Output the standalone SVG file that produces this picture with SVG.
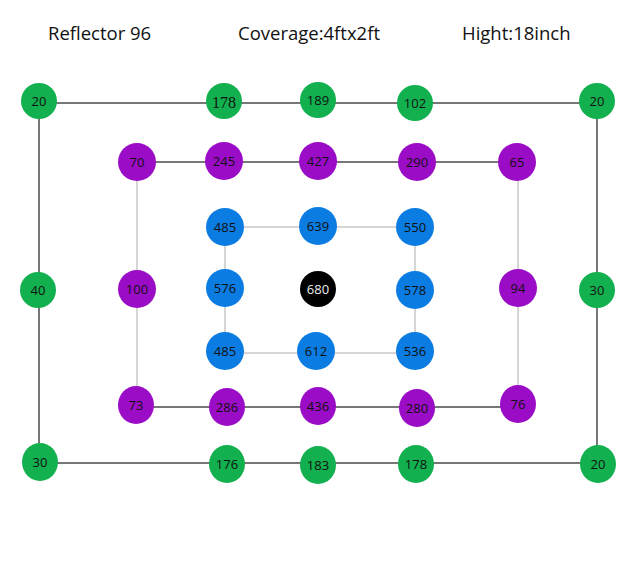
<svg xmlns="http://www.w3.org/2000/svg" width="637" height="566" viewBox="0 0 637 566">
<style>
.g{fill:#12B04F}.p{fill:#9B0CC6}.b{fill:#0B7CE2}.k{fill:#000}
.t{font-family:"Open Sans","Liberation Sans",sans-serif;font-size:13px;fill:#111;text-anchor:middle;dominant-baseline:central}
.w{fill:#eee}
.s{font-family:"Liberation Serif",serif;font-size:16px}
.h{font-family:"Open Sans","Liberation Sans",sans-serif;font-size:18.5px;fill:#111}
.d{stroke:#777;stroke-width:2;fill:none}
.l{stroke:#c8c8c8;stroke-width:1.5;fill:none}
</style>
<rect width="637" height="566" fill="#fff"/>
<text class="h" x="48" y="40">Reflector 96</text>
<text class="h" x="238" y="40">Coverage:4ftx2ft</text>
<text class="h" x="462" y="40">Hight:18inch</text>
<g id="connectors">
<path class="d" d="M39 103 H597 M39 101 V462 M40 463 H598 M597 101 V464"/>
<path class="d" d="M137 162 H517 M136 407 H518"/>
<path class="l" d="M137 162 V405 M518 162 V404"/>
<path class="l" d="M225 227 H415 M225 353 H415 M225 227 V351 M415 227 V351"/>
</g>
<g id="n-g1"><circle class="g" cx="39" cy="101" r="18"/><text class="t" x="39" y="101">20</text></g>
<g id="n-g2"><circle class="g" cx="224" cy="101" r="18"/><text class="t s" x="224" y="102">178</text></g>
<g id="n-g3"><circle class="g" cx="318" cy="100" r="18"/><text class="t" x="318" y="100">189</text></g>
<g id="n-g4"><circle class="g" cx="415" cy="103" r="18"/><text class="t" x="415" y="103">102</text></g>
<g id="n-g5"><circle class="g" cx="597" cy="101" r="18"/><text class="t" x="597" y="101">20</text></g>
<g id="n-g6"><circle class="g" cx="38" cy="290" r="18"/><text class="t" x="38" y="290">40</text></g>
<g id="n-g7"><circle class="g" cx="597" cy="290" r="18"/><text class="t" x="597" y="290">30</text></g>
<g id="n-g8"><ellipse class="g" cx="40" cy="462" rx="18" ry="19"/><text class="t" x="40" y="462">30</text></g>
<g id="n-g9"><ellipse class="g" cx="227" cy="464" rx="18" ry="19"/><text class="t" x="227" y="464">176</text></g>
<g id="n-g10"><ellipse class="g" cx="318" cy="465" rx="18" ry="19"/><text class="t" x="318" y="465">183</text></g>
<g id="n-g11"><ellipse class="g" cx="416" cy="464" rx="18" ry="19"/><text class="t" x="416" y="464">178</text></g>
<g id="n-g12"><ellipse class="g" cx="598" cy="464" rx="18" ry="19"/><text class="t" x="598" y="464">20</text></g>
<g id="n-p1"><circle class="p" cx="137" cy="162" r="19"/><text class="t" x="137" y="162">70</text></g>
<g id="n-p2"><circle class="p" cx="224" cy="161" r="19"/><text class="t" x="224" y="161">245</text></g>
<g id="n-p3"><circle class="p" cx="318" cy="161" r="19"/><text class="t" x="318" y="161">427</text></g>
<g id="n-p4"><circle class="p" cx="417" cy="162" r="19"/><text class="t" x="417" y="162">290</text></g>
<g id="n-p5"><circle class="p" cx="517" cy="162" r="19"/><text class="t" x="517" y="162">65</text></g>
<g id="n-p6"><circle class="p" cx="137" cy="289" r="19"/><text class="t" x="137" y="289">100</text></g>
<g id="n-p7"><circle class="p" cx="518" cy="288" r="19"/><text class="t" x="518" y="288">94</text></g>
<g id="n-p8"><ellipse class="p" cx="136" cy="405" rx="18" ry="19"/><text class="t" x="136" y="405">73</text></g>
<g id="n-p9"><ellipse class="p" cx="227" cy="407" rx="18" ry="19"/><text class="t" x="227" y="407">286</text></g>
<g id="n-p10"><ellipse class="p" cx="318" cy="406" rx="18" ry="19"/><text class="t" x="318" y="406">436</text></g>
<g id="n-p11"><ellipse class="p" cx="417" cy="408" rx="18" ry="19"/><text class="t" x="417" y="408">280</text></g>
<g id="n-p12"><ellipse class="p" cx="518" cy="404" rx="18" ry="19"/><text class="t" x="518" y="404">76</text></g>
<g id="n-b1"><circle class="b" cx="225" cy="227" r="19"/><text class="t" x="225" y="227">485</text></g>
<g id="n-b2"><circle class="b" cx="318" cy="226" r="19"/><text class="t" x="318" y="226">639</text></g>
<g id="n-b3"><circle class="b" cx="415" cy="227" r="19"/><text class="t" x="415" y="227">550</text></g>
<g id="n-b4"><circle class="b" cx="225" cy="288" r="19"/><text class="t" x="225" y="288">576</text></g>
<g id="n-k"><circle class="k" cx="318" cy="289" r="18"/><text class="t w" x="318" y="289">680</text></g>
<g id="n-b5"><circle class="b" cx="415" cy="290" r="19"/><text class="t" x="415" y="290">578</text></g>
<g id="n-b6"><circle class="b" cx="225" cy="351" r="19"/><text class="t" x="225" y="351">485</text></g>
<g id="n-b7"><circle class="b" cx="316" cy="351" r="19"/><text class="t" x="316" y="351">612</text></g>
<g id="n-b8"><circle class="b" cx="415" cy="351" r="19"/><text class="t" x="415" y="351">536</text></g>
</svg>
